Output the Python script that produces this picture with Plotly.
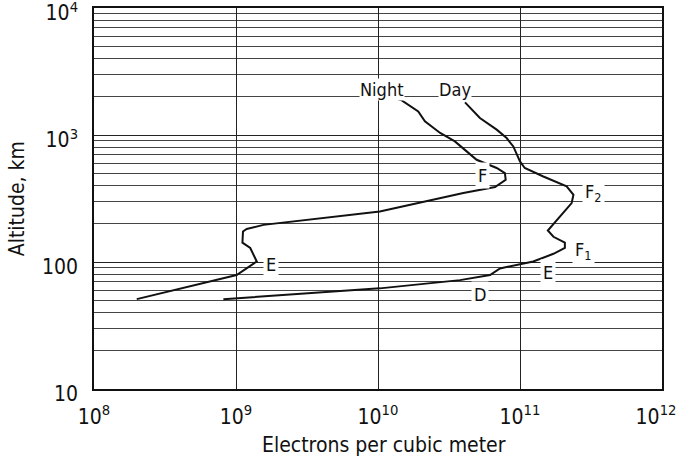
import math
import plotly.graph_objects as go

# Night profile (electrons per m^3, altitude km)
night_density = [1.28e10, 1.47e10, 1.92e10, 2.14e10, 2.74e10, 3.48e10, 4.21e10, 4.95e10,
                 6.85e10, 7.83e10, 7.93e10, 6.67e10, 3.99e10, 1.03e10, 1.56e9, 1.19e9,
                 1.12e9, 1.11e9, 1.26e9, 1.40e9, 1.01e9, 2.0e8]
night_altitude = [1960, 1875, 1535, 1280, 1038, 891, 743, 638,
                  550, 501, 444, 389, 349, 250, 196, 182,
                  174, 142, 129, 101, 79, 51]

# Day profile
day_density = [4.10e10, 5.22e10, 6.85e10, 8.05e10, 8.97e10, 1.0e11, 1.08e11, 1.46e11,
               2.13e11, 2.38e11, 2.31e11, 1.96e11, 1.72e11, 1.57e11, 1.72e11, 2.07e11,
               2.07e11, 1.72e11, 1.24e11, 7.23e10, 6.15e10, 3.78e10, 1.03e10, 8.15e8]
day_altitude = [1807, 1361, 1102, 946, 813, 619, 550, 471,
                394, 338, 291, 235, 202, 177, 158, 142,
                129, 116, 101, 89, 79, 72, 62, 51]

x_tickvals = [1e8, 1e9, 1e10, 1e11, 1e12]
x_ticktext = ["10<sup>8</sup>", "10<sup>9</sup>", "10<sup>10</sup>", "10<sup>11</sup>",
              "10<sup>12</sup>&nbsp;&nbsp;"]
y_tickvals = [10, 100, 1000, 10000]
y_ticktext = ["10", "100", "10<sup>3</sup>", "10<sup>4</sup>"]
y_minor = [m * d for d in (10, 100, 1000) for m in range(2, 10)]

# Layer labels: text, density, altitude
label_text = ["Night", "Day", "F", "F<sub>2</sub>", "F<sub>1</sub>", "E", "E", "D"]
label_x = [1.07e10, 3.48e10, 5.4e10, 3.3e11, 2.78e11, 1.75e9, 1.57e11, 5.22e10]
label_y = [2000, 2000, 480, 347, 122, 95, 82, 55]

x_title = "Electrons per cubic meter"
y_title = "Altitude, km"

FONT = "DejaVu Sans Condensed, Roboto, Arial, sans-serif"
INK = "#111"

fig = go.Figure()
fig.add_trace(go.Scatter(x=night_density, y=night_altitude, mode="lines",
                         line=dict(color=INK, width=2), showlegend=False))
fig.add_trace(go.Scatter(x=day_density, y=day_altitude, mode="lines",
                         line=dict(color=INK, width=2), showlegend=False))

shifts = [7, 7, 0, 0, 0, 0, 0, 0]
pads = [0, 0, 2, 2, 2, 2, 2, 2]
for t, x, y, s, p in zip(label_text, label_x, label_y, shifts, pads):
    fig.add_annotation(x=math.log10(x), y=math.log10(y), xref="x", yref="y", text=t,
                       showarrow=False, bgcolor="white", borderpad=p, yshift=s,
                       font=dict(family=FONT, size=18, color=INK))

fig.add_annotation(x=0.51, y=-0.147, xref="paper", yref="paper", text=x_title,
                   showarrow=False, xanchor="center", yanchor="middle",
                   font=dict(family=FONT, size=21, color=INK))
fig.add_annotation(x=-0.136, y=0.5, xref="paper", yref="paper", text=y_title,
                   showarrow=False, xanchor="center", yanchor="middle", textangle=-90,
                   font=dict(family=FONT, size=21, color=INK))

fig.update_xaxes(type="log", range=[8, 12], tickvals=x_tickvals, ticktext=x_ticktext,
                 showgrid=True, gridcolor="#222", gridwidth=1, automargin=False,
                 showline=True, linecolor=INK, linewidth=1.5, mirror=True,
                 ticks="", ticklabelstandoff=8, zeroline=False, ticklabeloverflow="allow",
                 tickfont=dict(family=FONT, size=21, color=INK))
fig.update_yaxes(type="log", range=[1, 4], tickvals=y_tickvals, ticktext=y_ticktext,
                 showgrid=True, gridcolor="#222", gridwidth=1, automargin=False,
                 minor=dict(tickvals=y_minor, showgrid=True, gridcolor="#444", gridwidth=1, ticks=""),
                 showline=True, linecolor=INK, linewidth=1.5, mirror=True,
                 ticks="", ticklabelstandoff=10, ticklabelshift=5, zeroline=False,
                 ticklabeloverflow="allow",
                 tickfont=dict(family=FONT, size=21, color=INK))

fig.update_layout(width=677, height=459, margin=dict(l=94, r=15, t=8, b=70),
                  plot_bgcolor="white", paper_bgcolor="white")

fig.write_html("out.html", config={"displayModeBar": False},
               post_script="document.body.style.margin='0px';")
